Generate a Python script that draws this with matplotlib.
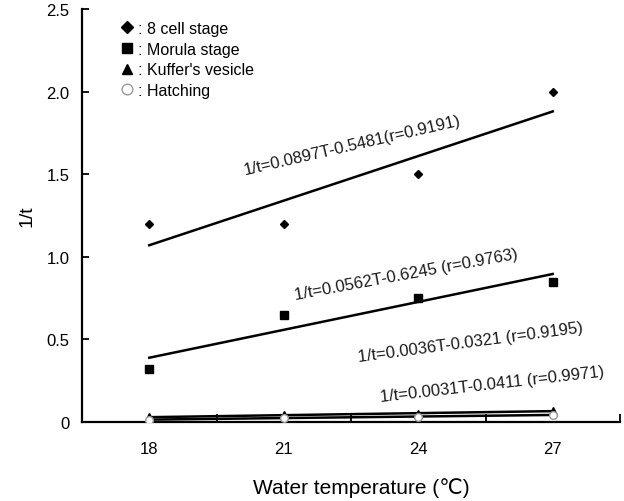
import numpy as np
import matplotlib
matplotlib.use("Agg")
import matplotlib.pyplot as plt
from matplotlib.lines import Line2D

plt.rcParams['font.family'] = ['Liberation Sans', 'DejaVu Sans']

temps = ["18", "21", "24", "27"]
cell8 = [1.2, 1.2, 1.5, 2.0]
morula = [0.32, 0.65, 0.75, 0.85]
kuffer = [0.030, 0.042, 0.050, 0.068]
hatching = [0.014, 0.025, 0.032, 0.043]

eq_labels = ["1/t=0.0897T-0.5481(r=0.9191)",
             "1/t=0.0562T-0.6245 (r=0.9763)",
             "1/t=0.0036T-0.0321 (r=0.9195)",
             "1/t=0.0031T-0.0411 (r=0.9971)"]
legend_labels = [": 8 cell stage", ": Morula stage", ": Kuffer's vesicle", ": Hatching"]

fig = plt.figure(figsize=(6.24, 5.02), dpi=100)
ax = fig.add_axes([82/624, 1-423/502, 538/624, 413/502])

x = np.arange(len(temps))
series = [cell8, morula, kuffer, hatching]
styles = [dict(marker='D', ms=4.5, mfc='black', mec='black'),
          dict(marker='s', ms=5.5, mfc='black', mec='black'),
          dict(marker='^', ms=5.5, mfc='black', mec='black'),
          dict(marker='o', ms=5.5, mfc='white', mec='#999999')]

for ys, st in zip(series, styles):
    ax.plot(x, ys, linestyle='none', zorder=3, **st)
    p = np.polyfit(x, ys, 1)
    ax.plot(x, np.polyval(p, x), color='black', lw=1.8, zorder=2)

# equation labels (start point in data coords, rotation)
eq_pos = [(0.71, 1.50, 13.0), (1.09, 0.745, 10.5), (1.56, 0.37, 7.5), (1.72, 0.13, 6.5)]
for lbl, (tx, ty, rot) in zip(eq_labels, eq_pos):
    ax.text(tx, ty, lbl, rotation=rot, rotation_mode='anchor', ha='left', va='baseline',
            fontsize=12, color='#1a1a1a')

ax.set_xlim(-0.5, 3.5)
ax.set_ylim(0, 2.5)
ax.set_xticks(x)
ax.set_xticklabels(temps)
ax.set_xticks(np.arange(0.5, 4.0, 1.0), minor=True)
ax.tick_params(axis='x', which='major', length=0, pad=14, labelsize=12)
ax.tick_params(axis='x', which='minor', direction='in', length=6, width=1.3)
ax.set_yticks([0, 0.5, 1.0, 1.5, 2.0, 2.5])
ax.set_yticklabels(["0", "0.5", "1.0", "1.5", "2.0", "2.5"])
ax.tick_params(axis='y', direction='in', length=5, width=1.3, pad=9, labelsize=12)

for s in ['top', 'right']:
    ax.spines[s].set_visible(False)
for s in ['left', 'bottom']:
    ax.spines[s].set_linewidth(1.6)

ax.set_xlabel("Water temperature (\u2103)", fontsize=15)
ax.xaxis.set_label_coords(0.52, -0.133)
ax.set_ylabel("1/t", fontsize=14, labelpad=8)

handles = [Line2D([], [], linestyle='none', **st) for st in styles]
leg = ax.legend(handles, legend_labels, loc='upper left', bbox_to_anchor=(0.06, 0.987),
                frameon=False, handlelength=0.8, handletextpad=0.3, labelspacing=0.36,
                borderaxespad=0, fontsize=11.5, markerscale=1.4)

fig.savefig("out.png", dpi=100)
